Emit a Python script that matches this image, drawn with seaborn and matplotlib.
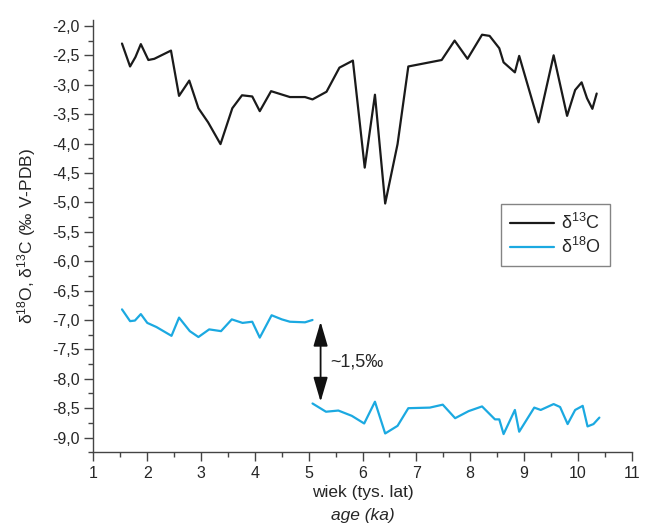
import pandas as pd
import matplotlib
matplotlib.use('Agg')
import matplotlib.pyplot as plt
from matplotlib.ticker import MultipleLocator, FuncFormatter
import seaborn as sns

# delta 13C record (age in ka, value in per mil V-PDB)
c13_age = [1.53, 1.68, 1.78, 1.88, 2.02, 2.13, 2.44, 2.59, 2.78, 2.95, 3.13, 3.36,
           3.58, 3.76, 3.95, 4.09, 4.30, 4.65, 4.93, 5.07, 5.33, 5.57, 5.82, 6.04,
           6.23, 6.42, 6.65, 6.85, 7.47, 7.71, 7.95, 8.22, 8.36, 8.54, 8.62, 8.83,
           8.91, 9.27, 9.55, 9.80, 9.95, 10.07, 10.17, 10.27, 10.35]
c13_val = [-2.30, -2.69, -2.53, -2.31, -2.58, -2.56, -2.42, -3.19, -2.93, -3.40, -3.64, -4.01,
           -3.40, -3.18, -3.20, -3.45, -3.11, -3.21, -3.21, -3.25, -3.12, -2.71, -2.59, -4.41,
           -3.17, -5.02, -4.01, -2.69, -2.58, -2.25, -2.56, -2.15, -2.17, -2.38, -2.62, -2.79,
           -2.51, -3.64, -2.50, -3.53, -3.09, -2.96, -3.23, -3.41, -3.15]

# delta 18O record, two separate parts (before and after the ~1.5 per mil shift)
o18_age_early = [1.53, 1.68, 1.77, 1.88, 2.00, 2.17, 2.45, 2.59, 2.79, 2.95, 3.15,
                 3.37, 3.57, 3.77, 3.95, 4.09, 4.31, 4.50, 4.65, 4.93, 5.07]
o18_val_early = [-6.82, -7.02, -7.01, -6.90, -7.05, -7.12, -7.27, -6.96, -7.19, -7.29, -7.16,
                 -7.19, -6.99, -7.05, -7.03, -7.30, -6.92, -6.99, -7.03, -7.04, -7.00]
o18_age_late = [5.07, 5.32, 5.55, 5.80, 6.03, 6.23, 6.42, 6.65, 6.85, 7.25, 7.49, 7.72,
                7.97, 8.22, 8.46, 8.54, 8.62, 8.83, 8.91, 9.19, 9.31, 9.55, 9.67, 9.81,
                9.95, 10.09, 10.18, 10.29, 10.40]
o18_val_late = [-8.42, -8.56, -8.54, -8.63, -8.76, -8.39, -8.93, -8.80, -8.50, -8.49, -8.44, -8.67,
                -8.55, -8.47, -8.69, -8.69, -8.94, -8.53, -8.90, -8.49, -8.53, -8.43, -8.48, -8.77,
                -8.53, -8.46, -8.81, -8.77, -8.66]

# the shift marked with the arrow
shift_age = 5.22
shift_top = -7.03
shift_bottom = -8.39

lab_c = 'δ$^{13}$C'
lab_o = 'δ$^{18}$O'

df = pd.concat([
    pd.DataFrame({'age': c13_age, 'val': c13_val, 'series': lab_c, 'seg': 'c'}),
    pd.DataFrame({'age': o18_age_early, 'val': o18_val_early, 'series': lab_o, 'seg': 'o1'}),
    pd.DataFrame({'age': o18_age_late, 'val': o18_val_late, 'series': lab_o, 'seg': 'o2'}),
], ignore_index=True)

sns.set_style('white')
plt.rcParams['font.family'] = ['Liberation Sans Narrow', 'Liberation Sans', 'DejaVu Sans']
plt.rcParams['mathtext.default'] = 'regular'

fig = plt.figure(figsize=(6.5, 5.32), dpi=100)
ax = fig.add_axes([0.1438, 0.1498, 0.828, 0.8126])

sns.lineplot(data=df, x='age', y='val', hue='series', units='seg', estimator=None,
             sort=False, palette={lab_c: '#1a1a1a', lab_o: '#1ba9e1'}, linewidth=1.6, ax=ax)

ax.set_xlim(1, 11)
ax.set_ylim(-9.25, -1.9)
ax.xaxis.set_major_locator(MultipleLocator(1))
ax.xaxis.set_minor_locator(MultipleLocator(0.5))
ax.yaxis.set_major_locator(MultipleLocator(0.5))
ax.yaxis.set_minor_locator(MultipleLocator(0.25))
ax.yaxis.set_major_formatter(FuncFormatter(lambda v, p: f'{v:.1f}'.replace('.', ',')))
ax.tick_params(which='major', direction='out', length=6.5, width=1, color='#444444',
               labelsize=11.5, left=True, bottom=True)
ax.tick_params(which='minor', direction='out', length=3.5, width=1, color='#444444',
               left=True, bottom=True)

for s in ['top', 'right']:
    ax.spines[s].set_visible(False)
for s in ['left', 'bottom']:
    ax.spines[s].set_color('#444444')
    ax.spines[s].set_linewidth(1)

ax.set_xlabel('wiek (tys. lat)', fontsize=12.5, labelpad=3)
ax.annotate('age (ka)', xy=(0.5, 0), xycoords='axes fraction', xytext=(0, -40),
            textcoords='offset points', ha='center', va='top', fontsize=12.5,
            style='italic')
ax.set_ylabel('δ$^{18}$O, δ$^{13}$C (‰ V-PDB)', fontsize=12.5, labelpad=10)

# arrow showing the shift
ax.annotate('', xy=(shift_age, shift_top), xytext=(shift_age, shift_bottom),
            arrowprops=dict(arrowstyle='<|-|>,head_length=0.75,head_width=0.22',
                            color='#111111', lw=1.3, mutation_scale=20,
                            shrinkA=0, shrinkB=0))
ax.text(shift_age + 0.18, (shift_top + shift_bottom) / 2, '~1,5‰',
        ha='left', va='center', fontsize=13)

leg = ax.legend(loc='upper left', bbox_to_anchor=(0.758, 0.574), frameon=True,
                fancybox=False, edgecolor='#666666', fontsize=13, handlelength=2.4,
                handletextpad=0.4, borderpad=0.5, labelspacing=0.2, borderaxespad=0)
leg.get_frame().set_linewidth(1)

fig.savefig('out.png', dpi=100)
